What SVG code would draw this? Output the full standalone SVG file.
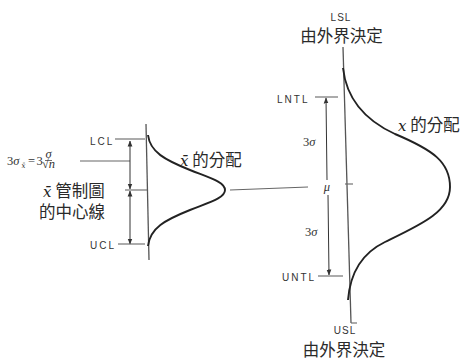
<svg xmlns="http://www.w3.org/2000/svg" width="467" height="359" viewBox="0 0 467 359">
<style>
.ax{stroke:#555;stroke-width:1.3;fill:none}
.tk{stroke:#666;stroke-width:1.1;fill:none}
.cv{stroke:#222;stroke-width:1.9;fill:none}
.ar{stroke:#333;stroke-width:1;fill:none}
.lab{font-family:"Liberation Sans",Arial,sans-serif;font-size:10px;fill:#333;letter-spacing:2px}
.cjk{font-family:"Noto Sans CJK TC","Noto Sans CJK SC",sans-serif;font-size:16.5px;fill:#2a2a2a}
.mth{font-family:"DejaVu Serif","Liberation Serif",serif;font-style:italic;fill:#222}
.sm{font-family:"Liberation Serif",serif;font-size:12.5px;fill:#333}
</style>
<defs>
<marker id="ah" viewBox="0 0 6 6" refX="5.5" refY="3" markerWidth="6" markerHeight="6" orient="auto-start-reverse" markerUnits="userSpaceOnUse">
<path d="M0,0.6 L6,3 L0,5.4 Z" fill="#333"/>
</marker>
</defs>
<rect width="467" height="359" fill="#fff"/>

<g id="connectors">
<line class="tk" x1="230" y1="190" x2="308" y2="187"/>
<line class="tk" x1="80" y1="161" x2="130" y2="161"/>
<line class="ar" x1="130" y1="141" x2="130" y2="189" marker-start="url(#ah)" marker-end="url(#ah)"/>
<line class="ar" x1="130" y1="191" x2="130" y2="244" marker-start="url(#ah)" marker-end="url(#ah)"/>
<line class="ar" x1="326" y1="98" x2="327" y2="180" marker-start="url(#ah)"/>
<line class="ar" x1="328" y1="195" x2="329" y2="275" marker-end="url(#ah)"/>
</g>

<g id="xbar-distribution">
<line class="ax" x1="146" y1="124" x2="149" y2="260"/>
<line class="tk" x1="115" y1="139" x2="145" y2="139"/>
<line class="tk" x1="125" y1="190" x2="147" y2="190"/>
<line class="tk" x1="118" y1="244" x2="145" y2="244"/>
<path class="cv" d="M148,135 C150,152 165,160 190,170 C210,178 225,182 225,190 C225,198 210,202 190,210 C165,220 150,228 148,246"/>
<text class="lab" x="90" y="145">LCL</text>
<text class="lab" x="90" y="249">UCL</text>
<text class="cjk" x="180" y="166"><tspan class="mth" font-size="15">x̄</tspan> 的分配</text>
</g>

<g id="formula">
<text class="sm" x="7" y="165">3<tspan font-style="italic">σ</tspan></text>
<text class="mth" x="21.5" y="168" font-size="7">x̄</text>
<text class="sm" x="28" y="165" font-size="11">=</text>
<text class="sm" x="36.5" y="165">3</text>
<text class="sm" x="48.5" y="157.5" font-size="7.5" text-anchor="middle" font-style="italic">σ</text>
<line x1="45" y1="160.5" x2="52" y2="160.5" stroke="#333" stroke-width="0.7"/>
<text class="sm" x="48.5" y="168" font-size="6.5" text-anchor="middle">√<tspan font-style="italic">n</tspan></text>
</g>

<g id="center-line-label">
<text class="cjk" x="43" y="197"><tspan class="mth" font-size="15">x̄</tspan> 管制圖</text>
<text class="cjk" x="39" y="218">的中心線</text>
</g>

<g id="x-distribution">
<line class="ax" x1="343" y1="47" x2="351" y2="323"/>
<line class="tk" x1="351" y1="323" x2="357" y2="323"/>
<line class="tk" x1="345" y1="184" x2="353" y2="184"/>
<line class="tk" x1="315" y1="97" x2="338" y2="97"/>
<line class="tk" x1="318" y1="276" x2="343" y2="276"/>
<path class="cv" d="M343,68 C346,95 360,118 395,134 C433,150 450,162 450,187 C450,212 420,225 385,242 C360,254 350,275 348,300"/>
<text class="lab" x="277" y="103">LNTL</text>
<text class="lab" x="282" y="281">UNTL</text>
<text class="sm" x="303" y="146">3<tspan font-style="italic">σ</tspan></text>
<text class="sm" x="327" y="191" text-anchor="middle" font-style="italic">μ</text>
<text class="sm" x="305" y="236">3<tspan font-style="italic">σ</tspan></text>
<text class="cjk" x="398" y="131"><tspan class="mth" font-size="15">x</tspan> 的分配</text>
</g>

<g id="lsl">
<text class="lab" x="341" y="21" text-anchor="middle" style="letter-spacing:1px">LSL</text>
<text class="cjk" x="341.5" y="42" text-anchor="middle" font-size="17.5">由外界決定</text>
</g>

<g id="usl">
<text class="lab" x="345" y="334" text-anchor="middle" style="letter-spacing:1px">USL</text>
<text class="cjk" x="344" y="356" text-anchor="middle" font-size="17.5">由外界決定</text>
</g>
</svg>
